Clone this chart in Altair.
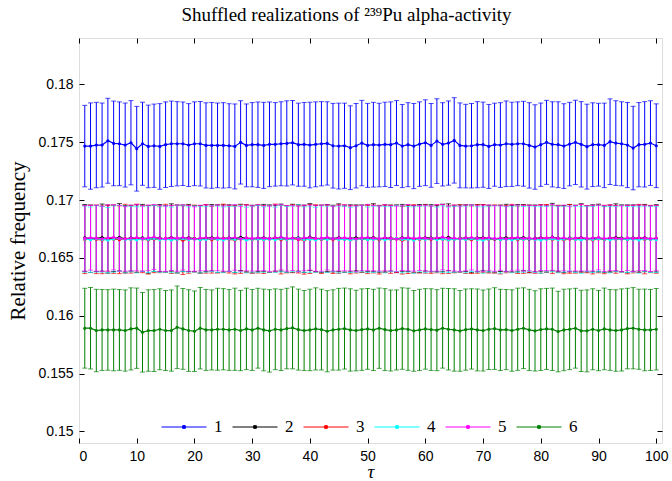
import altair as alt
import pandas as pd

tau = list(range(1, 101))
series_names = ["1", "2", "3", "4", "5", "6"]
series_colors = ["#0000ff", "#000000", "#ff0000", "#00ffff", "#ff00ff", "#008000"]

mean_1 = [0.17466, 0.17466, 0.17475, 0.17475, 0.17512, 0.17489, 0.17486, 0.17475, 0.17495, 0.17443,
          0.17486, 0.17463, 0.17469, 0.17463, 0.17478, 0.17486, 0.17486, 0.17486, 0.17475, 0.17486,
          0.17486, 0.17472, 0.17472, 0.17472, 0.17472,
          0.17469, 0.17463, 0.17498, 0.17472, 0.17478, 0.17478, 0.17472, 0.17481, 0.17481, 0.17486,
          0.17489, 0.17495, 0.17478, 0.17481, 0.17475, 0.17481, 0.17486, 0.17489, 0.17469, 0.17466,
          0.17469, 0.17452, 0.17469, 0.17492, 0.17472,
          0.17478, 0.17475, 0.17481, 0.17478, 0.17492, 0.17466, 0.17478, 0.17466, 0.17483, 0.17495,
          0.17472, 0.17509, 0.17481, 0.17492, 0.17515, 0.17472, 0.17466, 0.17469, 0.17478, 0.17478,
          0.17463, 0.17478, 0.17475, 0.17486, 0.17481,
          0.17486, 0.17486, 0.17472, 0.17458, 0.17478, 0.17498, 0.17481, 0.17478, 0.17466, 0.17483,
          0.17498, 0.17481, 0.17461, 0.17478, 0.17478, 0.17472, 0.17504, 0.17492, 0.17486, 0.17475,
          0.17449, 0.17478, 0.17481, 0.17492, 0.17469]
err_1 = [0.00352, 0.00373, 0.00369, 0.00363, 0.00367, 0.00366, 0.00362, 0.00363, 0.00364, 0.00366,
         0.00359, 0.00357, 0.00360, 0.00370, 0.00370, 0.00369, 0.00364, 0.00361, 0.00358, 0.00362,
         0.00365, 0.00368, 0.00371, 0.00366, 0.00369,
         0.00363, 0.00367, 0.00360, 0.00358, 0.00364, 0.00369, 0.00372, 0.00366, 0.00361, 0.00363,
         0.00368, 0.00365, 0.00359, 0.00362, 0.00370, 0.00367, 0.00364, 0.00360, 0.00366, 0.00371,
         0.00368, 0.00362, 0.00365, 0.00369, 0.00363,
         0.00366, 0.00361, 0.00364, 0.00370, 0.00367, 0.00359, 0.00363, 0.00368, 0.00365, 0.00371,
         0.00362, 0.00366, 0.00360, 0.00364, 0.00369, 0.00367, 0.00361, 0.00365, 0.00372, 0.00368,
         0.00363, 0.00359, 0.00366, 0.00370, 0.00364,
         0.00362, 0.00367, 0.00369, 0.00365, 0.00360, 0.00363, 0.00368, 0.00371, 0.00366, 0.00361,
         0.00364, 0.00369, 0.00367, 0.00362, 0.00358, 0.00365, 0.00370, 0.00366, 0.00363, 0.00368,
         0.00361, 0.00364, 0.00369, 0.00366, 0.00362]

mean_2 = [0.16672, 0.16665, 0.16668, 0.16675, 0.16662, 0.16669, 0.16678, 0.16664, 0.16670, 0.16666,
          0.16673, 0.16660, 0.16668, 0.16671, 0.16665, 0.16676, 0.16663, 0.16669, 0.16672, 0.16667,
          0.16661, 0.16670, 0.16674, 0.16666, 0.16668,
          0.16671, 0.16664, 0.16677, 0.16669, 0.16662, 0.16668, 0.16673, 0.16666, 0.16670, 0.16675,
          0.16663, 0.16669, 0.16672, 0.16665, 0.16680, 0.16668, 0.16664, 0.16671, 0.16667, 0.16674,
          0.16662, 0.16669, 0.16673, 0.16666, 0.16670,
          0.16676, 0.16664, 0.16668, 0.16671, 0.16665, 0.16673, 0.16669, 0.16661, 0.16667, 0.16674,
          0.16670, 0.16666, 0.16672, 0.16678, 0.16663, 0.16668, 0.16671, 0.16665, 0.16670, 0.16674,
          0.16667, 0.16662, 0.16669, 0.16673, 0.16666,
          0.16670, 0.16675, 0.16664, 0.16668, 0.16672, 0.16666, 0.16679, 0.16669, 0.16663, 0.16671,
          0.16667, 0.16674, 0.16665, 0.16669, 0.16672, 0.16661, 0.16668, 0.16676, 0.16670, 0.16665,
          0.16671, 0.16667, 0.16673, 0.16664, 0.16669]
err_2 = [0.00289, 0.00292, 0.00286, 0.00290, 0.00294, 0.00287, 0.00291, 0.00288, 0.00285, 0.00292,
         0.00289, 0.00293, 0.00287, 0.00290, 0.00286, 0.00291, 0.00294, 0.00288, 0.00290, 0.00285,
         0.00292, 0.00289, 0.00287, 0.00293, 0.00290,
         0.00288, 0.00291, 0.00286, 0.00290, 0.00293, 0.00287, 0.00289, 0.00292, 0.00285, 0.00290,
         0.00288, 0.00294, 0.00287, 0.00291, 0.00289, 0.00286, 0.00292, 0.00290, 0.00288, 0.00293,
         0.00287, 0.00290, 0.00285, 0.00291, 0.00289,
         0.00292, 0.00288, 0.00290, 0.00286, 0.00293, 0.00289, 0.00287, 0.00291, 0.00294, 0.00288,
         0.00290, 0.00285, 0.00292, 0.00289, 0.00287, 0.00291, 0.00288, 0.00293, 0.00290, 0.00286,
         0.00289, 0.00292, 0.00287, 0.00290, 0.00288,
         0.00291, 0.00286, 0.00293, 0.00289, 0.00287, 0.00290, 0.00292, 0.00285, 0.00289, 0.00291,
         0.00288, 0.00294, 0.00287, 0.00290, 0.00292, 0.00286, 0.00289, 0.00291, 0.00288, 0.00293,
         0.00287, 0.00290, 0.00289, 0.00286, 0.00291]

mean_3 = [0.16658, 0.16664, 0.16660, 0.16655, 0.16667, 0.16661, 0.16657, 0.16665, 0.16659, 0.16670,
          0.16662, 0.16656, 0.16664, 0.16660, 0.16668, 0.16658, 0.16663, 0.16653, 0.16661, 0.16666,
          0.16659, 0.16664, 0.16657, 0.16662, 0.16669,
          0.16660, 0.16655, 0.16663, 0.16667, 0.16659, 0.16664, 0.16658, 0.16662, 0.16671, 0.16657,
          0.16661, 0.16665, 0.16659, 0.16654, 0.16663, 0.16667, 0.16660, 0.16664, 0.16658, 0.16662,
          0.16668, 0.16656, 0.16661, 0.16665, 0.16659,
          0.16663, 0.16657, 0.16666, 0.16660, 0.16664, 0.16652, 0.16661, 0.16667, 0.16659, 0.16663,
          0.16658, 0.16665, 0.16661, 0.16656, 0.16664, 0.16669, 0.16660, 0.16657, 0.16663, 0.16666,
          0.16659, 0.16664, 0.16658, 0.16662, 0.16668,
          0.16657, 0.16661, 0.16665, 0.16659, 0.16663, 0.16670, 0.16658, 0.16662, 0.16656, 0.16664,
          0.16660, 0.16667, 0.16661, 0.16655, 0.16663, 0.16659, 0.16666, 0.16660, 0.16664, 0.16657,
          0.16662, 0.16668, 0.16659, 0.16663, 0.16660]
err_3 = [0.00294, 0.00290, 0.00296, 0.00292, 0.00289, 0.00295, 0.00293, 0.00298, 0.00291, 0.00294,
         0.00290, 0.00296, 0.00292, 0.00288, 0.00295, 0.00293, 0.00291, 0.00297, 0.00294, 0.00290,
         0.00292, 0.00296, 0.00289, 0.00293, 0.00295,
         0.00291, 0.00294, 0.00297, 0.00292, 0.00290, 0.00295, 0.00293, 0.00288, 0.00294, 0.00296,
         0.00291, 0.00293, 0.00290, 0.00295, 0.00298, 0.00292, 0.00294, 0.00289, 0.00293, 0.00296,
         0.00291, 0.00294, 0.00292, 0.00290, 0.00295,
         0.00293, 0.00297, 0.00291, 0.00294, 0.00289, 0.00292, 0.00296, 0.00293, 0.00290, 0.00295,
         0.00292, 0.00294, 0.00298, 0.00291, 0.00293, 0.00289, 0.00295, 0.00292, 0.00296, 0.00294,
         0.00290, 0.00293, 0.00297, 0.00291, 0.00294,
         0.00292, 0.00295, 0.00290, 0.00293, 0.00296, 0.00291, 0.00294, 0.00289, 0.00293, 0.00297,
         0.00292, 0.00295, 0.00290, 0.00294, 0.00292, 0.00296, 0.00291, 0.00293, 0.00289, 0.00295,
         0.00292, 0.00294, 0.00297, 0.00291, 0.00293]

mean_4 = [0.16662, 0.16657, 0.16665, 0.16660, 0.16654, 0.16663, 0.16668, 0.16659, 0.16661, 0.16656,
          0.16664, 0.16660, 0.16667, 0.16658, 0.16662, 0.16655, 0.16661, 0.16666, 0.16659, 0.16663,
          0.16657, 0.16660, 0.16665, 0.16661, 0.16656,
          0.16663, 0.16659, 0.16666, 0.16654, 0.16661, 0.16664, 0.16658, 0.16662, 0.16657, 0.16665,
          0.16660, 0.16663, 0.16669, 0.16658, 0.16661, 0.16656, 0.16664, 0.16660, 0.16665, 0.16659,
          0.16662, 0.16655, 0.16661, 0.16666, 0.16658,
          0.16660, 0.16664, 0.16657, 0.16662, 0.16667, 0.16659, 0.16661, 0.16655, 0.16663, 0.16660,
          0.16665, 0.16658, 0.16662, 0.16656, 0.16661, 0.16664, 0.16659, 0.16666, 0.16660, 0.16654,
          0.16662, 0.16665, 0.16658, 0.16661, 0.16657,
          0.16663, 0.16660, 0.16666, 0.16659, 0.16655, 0.16662, 0.16664, 0.16658, 0.16661, 0.16667,
          0.16660, 0.16656, 0.16663, 0.16659, 0.16665, 0.16661, 0.16657, 0.16662, 0.16664, 0.16659,
          0.16661, 0.16655, 0.16663, 0.16660, 0.16658]
err_4 = [0.00286, 0.00283, 0.00288, 0.00284, 0.00281, 0.00287, 0.00285, 0.00289, 0.00283, 0.00286,
         0.00282, 0.00288, 0.00285, 0.00283, 0.00287, 0.00284, 0.00290, 0.00285, 0.00282, 0.00286,
         0.00288, 0.00283, 0.00285, 0.00287, 0.00284,
         0.00281, 0.00286, 0.00288, 0.00284, 0.00285, 0.00289, 0.00283, 0.00286, 0.00282, 0.00287,
         0.00285, 0.00284, 0.00288, 0.00283, 0.00286, 0.00281, 0.00285, 0.00287, 0.00284, 0.00289,
         0.00286, 0.00282, 0.00285, 0.00288, 0.00283,
         0.00286, 0.00284, 0.00287, 0.00282, 0.00285, 0.00289, 0.00283, 0.00286, 0.00284, 0.00288,
         0.00285, 0.00281, 0.00287, 0.00284, 0.00286, 0.00283, 0.00288, 0.00285, 0.00282, 0.00287,
         0.00284, 0.00286, 0.00290, 0.00283, 0.00285,
         0.00287, 0.00284, 0.00282, 0.00286, 0.00288, 0.00283, 0.00285, 0.00287, 0.00284, 0.00281,
         0.00286, 0.00289, 0.00283, 0.00285, 0.00287, 0.00284, 0.00286, 0.00282, 0.00288, 0.00285,
         0.00283, 0.00287, 0.00284, 0.00286, 0.00285]

mean_5 = [0.16668, 0.16674, 0.16670, 0.16665, 0.16672, 0.16677, 0.16669, 0.16664, 0.16671, 0.16675,
          0.16667, 0.16673, 0.16680, 0.16669, 0.16666, 0.16672, 0.16670, 0.16676, 0.16668, 0.16663,
          0.16671, 0.16674, 0.16669, 0.16673, 0.16667,
          0.16670, 0.16676, 0.16665, 0.16672, 0.16668, 0.16674, 0.16670, 0.16666, 0.16673, 0.16678,
          0.16669, 0.16671, 0.16664, 0.16672, 0.16675, 0.16668, 0.16670, 0.16677, 0.16666, 0.16671,
          0.16673, 0.16669, 0.16665, 0.16672, 0.16676,
          0.16670, 0.16667, 0.16674, 0.16669, 0.16663, 0.16671, 0.16675, 0.16668, 0.16672, 0.16670,
          0.16666, 0.16673, 0.16679, 0.16669, 0.16671, 0.16665, 0.16672, 0.16676, 0.16668, 0.16670,
          0.16674, 0.16667, 0.16671, 0.16664, 0.16672,
          0.16675, 0.16669, 0.16671, 0.16666, 0.16673, 0.16670, 0.16677, 0.16668, 0.16672, 0.16665,
          0.16670, 0.16674, 0.16669, 0.16671, 0.16676, 0.16667, 0.16673, 0.16670, 0.16665, 0.16672,
          0.16668, 0.16674, 0.16670, 0.16666, 0.16671]
err_5 = [0.00283, 0.00280, 0.00285, 0.00282, 0.00286, 0.00281, 0.00284, 0.00279, 0.00283, 0.00287,
         0.00282, 0.00284, 0.00280, 0.00285, 0.00283, 0.00281, 0.00286, 0.00282, 0.00284, 0.00279,
         0.00283, 0.00285, 0.00281, 0.00284, 0.00282,
         0.00286, 0.00283, 0.00280, 0.00284, 0.00282, 0.00285, 0.00281, 0.00283, 0.00287, 0.00282,
         0.00284, 0.00280, 0.00285, 0.00283, 0.00281, 0.00284, 0.00286, 0.00282, 0.00279, 0.00283,
         0.00285, 0.00281, 0.00284, 0.00282, 0.00286,
         0.00283, 0.00281, 0.00285, 0.00282, 0.00284, 0.00280, 0.00286, 0.00283, 0.00281, 0.00284,
         0.00282, 0.00287, 0.00283, 0.00280, 0.00285, 0.00282, 0.00284, 0.00281, 0.00283, 0.00286,
         0.00282, 0.00284, 0.00279, 0.00283, 0.00285,
         0.00281, 0.00284, 0.00282, 0.00286, 0.00283, 0.00280, 0.00285, 0.00282, 0.00284, 0.00281,
         0.00283, 0.00287, 0.00282, 0.00284, 0.00280, 0.00285, 0.00283, 0.00281, 0.00284, 0.00282,
         0.00286, 0.00283, 0.00281, 0.00284, 0.00282]

mean_6 = [0.15892, 0.15892, 0.15872, 0.15877, 0.15877, 0.15877, 0.15877, 0.15872, 0.15886, 0.15892,
          0.15857, 0.15872, 0.15872, 0.15883, 0.15872, 0.15872, 0.15900, 0.15886, 0.15872, 0.15866,
          0.15892, 0.15877, 0.15877, 0.15883, 0.15883,
          0.15877, 0.15883, 0.15872, 0.15886, 0.15877, 0.15892, 0.15877, 0.15869, 0.15883, 0.15877,
          0.15889, 0.15895, 0.15880, 0.15872, 0.15877, 0.15886, 0.15880, 0.15866, 0.15877, 0.15883,
          0.15889, 0.15877, 0.15872, 0.15880, 0.15886,
          0.15877, 0.15892, 0.15880, 0.15872, 0.15877, 0.15889, 0.15883, 0.15869, 0.15877, 0.15886,
          0.15880, 0.15875, 0.15892, 0.15883, 0.15877, 0.15869, 0.15880, 0.15886, 0.15877, 0.15872,
          0.15883, 0.15889, 0.15877, 0.15880, 0.15872,
          0.15883, 0.15892, 0.15877, 0.15869, 0.15880, 0.15886, 0.15883, 0.15863, 0.15877, 0.15883,
          0.15892, 0.15869, 0.15869, 0.15883, 0.15872, 0.15886, 0.15877, 0.15872, 0.15877, 0.15889,
          0.15892, 0.15883, 0.15877, 0.15877, 0.15883]
err_6 = [0.00345, 0.00352, 0.00356, 0.00350, 0.00348, 0.00353, 0.00349, 0.00351, 0.00355, 0.00347,
         0.00344, 0.00352, 0.00354, 0.00350, 0.00346, 0.00351, 0.00357, 0.00349, 0.00353, 0.00348,
         0.00352, 0.00350, 0.00346, 0.00354, 0.00351,
         0.00349, 0.00355, 0.00347, 0.00352, 0.00350, 0.00345, 0.00353, 0.00356, 0.00349, 0.00351,
         0.00348, 0.00354, 0.00350, 0.00346, 0.00352, 0.00355, 0.00349, 0.00351, 0.00347, 0.00353,
         0.00350, 0.00356, 0.00348, 0.00352, 0.00349,
         0.00351, 0.00347, 0.00354, 0.00350, 0.00346, 0.00352, 0.00355, 0.00349, 0.00351, 0.00348,
         0.00353, 0.00350, 0.00345, 0.00352, 0.00356, 0.00349, 0.00351, 0.00347, 0.00354, 0.00350,
         0.00348, 0.00353, 0.00351, 0.00346, 0.00352,
         0.00355, 0.00349, 0.00351, 0.00347, 0.00353, 0.00350, 0.00356, 0.00348, 0.00352, 0.00349,
         0.00345, 0.00351, 0.00354, 0.00350, 0.00347, 0.00353, 0.00349, 0.00352, 0.00355, 0.00348,
         0.00351, 0.00346, 0.00353, 0.00350, 0.00352]

means = [mean_1, mean_2, mean_3, mean_4, mean_5, mean_6]
errs = [err_1, err_2, err_3, err_4, err_5, err_6]

rows = []
for name, m, e in zip(series_names, means, errs):
    for t, mv, ev in zip(tau, m, e):
        rows.append({"tau": t, "mean": mv, "lo": mv - ev, "hi": mv + ev, "series": name})
df = pd.DataFrame(rows)

x_ticks = [0, 10, 20, 30, 40, 50, 60, 70, 80, 90, 100]
y_ticks = [0.15, 0.155, 0.16, 0.165, 0.17, 0.175, 0.18]

xscale = alt.Scale(domain=[0, 101], nice=False, zero=False)
yscale = alt.Scale(domain=[0.149, 0.184], nice=False, zero=False)
cscale = alt.Scale(domain=series_names, range=series_colors)

sans = "Liberation Sans"
serif = "Liberation Serif"

xaxis = alt.Axis(values=x_ticks, tickSize=5, offset=-5, domain=False, grid=False,
                 labelFont=sans, labelFontSize=14, labelPadding=6, labelColor="black",
                 tickColor="black", title="τ", titleFont=serif, titleFontStyle="italic",
                 titleFontWeight="normal", titleFontSize=19, titlePadding=-1, titleColor="black")
yaxis = alt.Axis(values=y_ticks, format=".3~f", tickSize=5, offset=-5, domain=False, grid=False,
                 labelFont=sans, labelFontSize=14, labelPadding=6, labelColor="black",
                 tickColor="black", title="Relative frequency", titleFont=serif,
                 titleFontWeight="normal", titleFontSize=21, titlePadding=9, titleColor="black")

legend = alt.Legend(
    title=None, orient="none", legendX=78, legendY=362, direction="horizontal", columns=6,
    symbolType="M-1,0H1M-0.06,-0.06H0.06V0.06H-0.06Z", symbolSize=2025, symbolStrokeWidth=1,
    labelFont=serif, labelFontSize=17, labelColor="black", labelOffset=7, columnPadding=7,
    padding=4, symbolOpacity=1)
C = alt.Color("series:N", scale=cscale, legend=legend)

base = alt.Chart(df)

bars = base.mark_rule(strokeWidth=1).encode(
    x=alt.X("tau:Q", scale=xscale, axis=xaxis),
    y=alt.Y("lo:Q", scale=yscale, axis=yaxis), y2="hi:Q", color=C)
cap_hi = base.mark_tick(orient="horizontal", size=5, thickness=1).encode(
    x=alt.X("tau:Q", scale=xscale, axis=None), y=alt.Y("hi:Q", scale=yscale, axis=None), color=C)
cap_lo = base.mark_tick(orient="horizontal", size=5, thickness=1).encode(
    x=alt.X("tau:Q", scale=xscale, axis=None), y=alt.Y("lo:Q", scale=yscale, axis=None), color=C)
lines = base.mark_line(strokeWidth=1.2, point=alt.OverlayMarkDef(filled=True, size=10)).encode(
    x=alt.X("tau:Q", scale=xscale, axis=None), y=alt.Y("mean:Q", scale=yscale, axis=None), color=C)

mirror = base.mark_line(opacity=0).encode(
    x=alt.X("tau:Q", scale=xscale, axis=alt.Axis(orient="top", values=x_ticks, labels=False,
            tickSize=5, offset=-5, domain=False, grid=False, title=None, tickColor="black")),
    y=alt.Y("mean:Q", scale=yscale, axis=alt.Axis(orient="right", values=y_ticks, labels=False,
            tickSize=5, offset=-5, domain=False, grid=False, title=None, tickColor="black")),
    detail="series:N")

chart = alt.layer(bars, cap_hi, cap_lo, lines, mirror).resolve_axis(
    x="independent", y="independent"
).properties(
    width=583, height=405,
    title=alt.TitleParams("Shuffled realizations of ²³⁹Pu alpha-activity", font=serif,
                          fontSize=19, fontWeight="normal", color="black", offset=13, dx=-24),
    padding={"left": 79, "top": 38, "right": 10, "bottom": 38},
    autosize=alt.AutoSizeParams(type="none"),
).configure_view(stroke="black", strokeWidth=1).configure(background="white")

chart.save("out.html", embed_options={"renderer": "svg", "actions": False})
